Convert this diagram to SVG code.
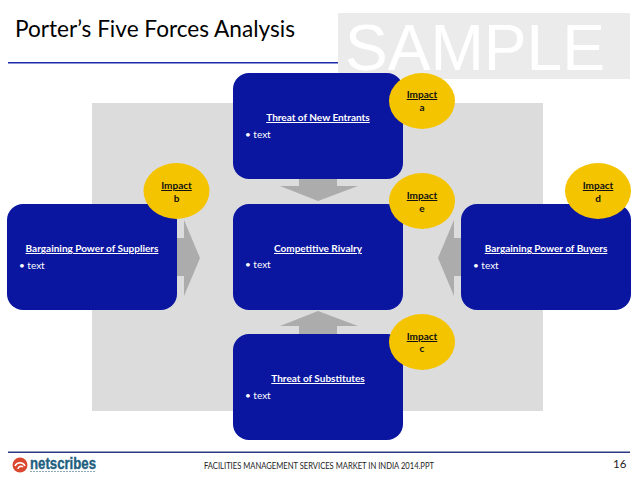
<svg xmlns="http://www.w3.org/2000/svg" width="638" height="479" viewBox="0 0 638 479">
<style>
.box{fill:#0a16a0}
.imp{fill:#f5c400}
.arrow{fill:#acacac}
text{font-family:Lato,"Open Sans",sans-serif}
.h{font-size:10px;fill:#fff;text-decoration:underline;text-anchor:middle;font-weight:700}
.t{font-size:10px;fill:#fff}
.i{font-size:10px;fill:#111;text-anchor:middle;font-weight:700}
.u{text-decoration:underline}
</style>
<rect width="638" height="479" fill="#fff"/>
<text x="15" y="37" font-size="22.500" fill="#000" textLength="280" lengthAdjust="spacingAndGlyphs">Porter’s Five Forces Analysis</text>
<rect x="8" y="62" width="330" height="1.500" fill="#1a2aa8"/>
<rect x="338" y="13" width="292" height="66" fill="#ebebeb"/>
<text x="345" y="70" font-size="65" fill="#fff" textLength="260" lengthAdjust="spacingAndGlyphs" style="font-family:'Liberation Sans',sans-serif">SAMPLE</text>
<rect x="92" y="103" width="451" height="308" fill="#dcdcdc"/>
<g id="connectors">
<path class="arrow" d="M177 238H184V220L200 258L184 296V276H177Z"/>
<path class="arrow" d="M461 238H454V220L438 258L454 296V276H461Z"/>
<path class="arrow" d="M299 179V186H280L318 201L358 186H337V179Z"/>
<path class="arrow" d="M299 334V326H280L318 311L358 326H337V334Z"/>
</g>
<g id="new-entrants"><rect class="box" x="233" y="73" width="170" height="106" rx="16"/>
<text class="h" x="318" y="121">Threat of New Entrants</text><text class="t" x="245" y="138">• text</text></g>
<g id="suppliers"><rect class="box" x="7" y="204" width="170" height="106" rx="16"/>
<text class="h" x="92" y="252">Bargaining Power of Suppliers</text><text class="t" x="19" y="269">• text</text></g>
<g id="rivalry"><rect class="box" x="233" y="204" width="170" height="106" rx="16"/>
<text class="h" x="318" y="252">Competitive Rivalry</text><text class="t" x="245" y="268">• text</text></g>
<g id="buyers"><rect class="box" x="461" y="204" width="170" height="106" rx="16"/>
<text class="h" x="546" y="252">Bargaining Power of Buyers</text><text class="t" x="473" y="269">• text</text></g>
<g id="substitutes"><rect class="box" x="233" y="334" width="170" height="106" rx="16"/>
<text class="h" x="318" y="382">Threat of Substitutes</text><text class="t" x="245" y="399">• text</text></g>
<g id="impact-a"><ellipse class="imp" cx="422" cy="101" rx="33" ry="28"/><text class="i u" x="422" y="98">Impact</text><text class="i" x="422" y="111">a</text></g>
<g id="impact-b"><ellipse class="imp" cx="176.500" cy="191" rx="33" ry="28"/><text class="i u" x="176.500" y="189">Impact</text><text class="i" x="176.500" y="202">b</text></g>
<g id="impact-c"><ellipse class="imp" cx="422" cy="342" rx="33" ry="28"/><text class="i u" x="422" y="340">Impact</text><text class="i" x="422" y="352">c</text></g>
<g id="impact-d"><ellipse class="imp" cx="598" cy="191" rx="33" ry="28"/><text class="i u" x="598" y="189">Impact</text><text class="i" x="598" y="202">d</text></g>
<g id="impact-e"><ellipse class="imp" cx="422" cy="201" rx="33" ry="28"/><text class="i u" x="422" y="199">Impact</text><text class="i" x="422" y="212">e</text></g>
<rect x="8" y="451.500" width="622" height="1.500" fill="#2b3a80"/>
<g id="logo">
<circle cx="20" cy="465" r="7.500" fill="#d9482f"/>
<path d="M15 466a5.500 5.500 0 0 1 10 0" fill="none" stroke="#fff" stroke-width="1.500"/>
<path d="M18 469a3 3 0 0 1 5 -2" fill="none" stroke="#fff" stroke-width="1.500"/>
<text x="30" y="469" font-size="17" font-weight="700" fill="#1f5f80" stroke="#1f5f80" stroke-width="0.400" style="font-family:'Liberation Sans',sans-serif" textLength="66" lengthAdjust="spacingAndGlyphs">netscribes</text>
<path d="M30 471.500H96" stroke="#8fa9b8" stroke-width="1" stroke-dasharray="2 1"/>
</g>
<text x="204" y="469" font-size="8.500" fill="#222" textLength="230" lengthAdjust="spacingAndGlyphs">FACILITIES MANAGEMENT SERVICES MARKET IN INDIA 2014.PPT</text>
<text x="613" y="468" font-size="11.500" fill="#222">16</text>
</svg>
